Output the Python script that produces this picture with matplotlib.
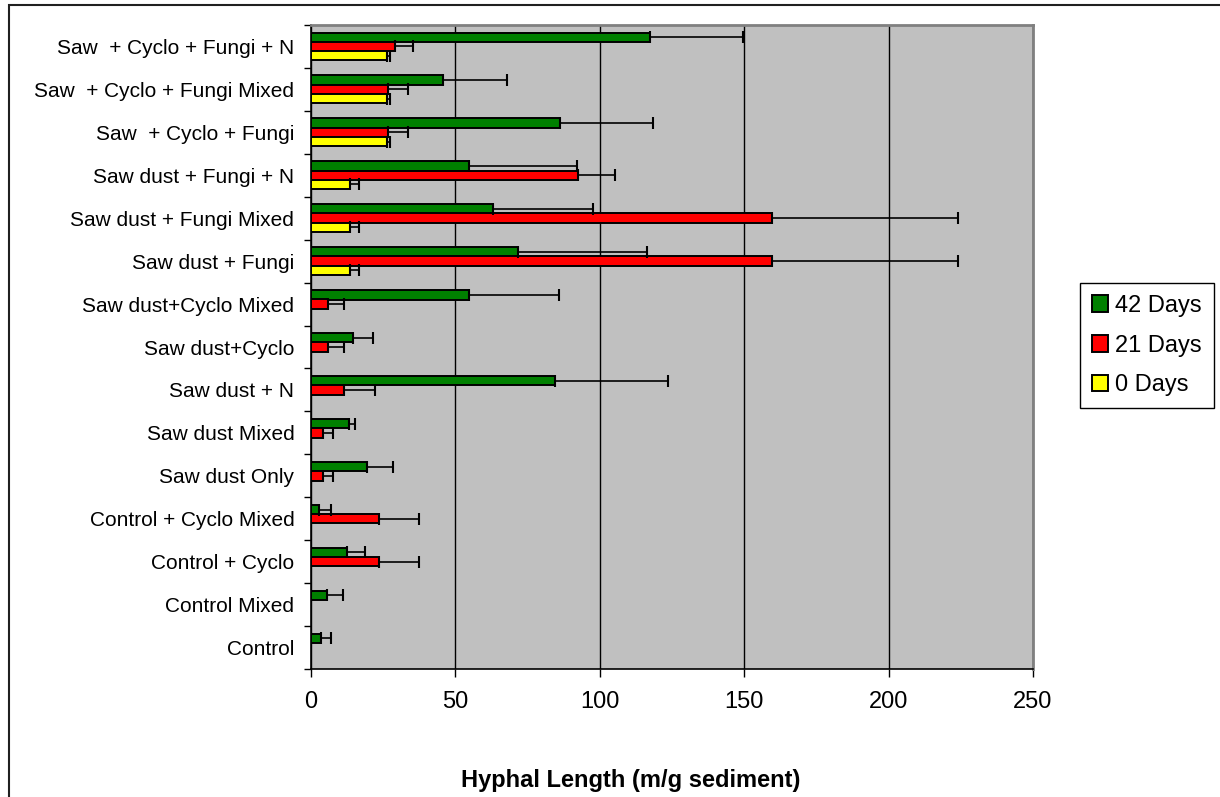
import matplotlib
matplotlib.use('Agg')
import matplotlib.pyplot as plt
import numpy as np
from matplotlib.patches import Rectangle

# Categories listed top to bottom as in the chart
categories = [
    "Saw  + Cyclo + Fungi + N",
    "Saw  + Cyclo + Fungi Mixed",
    "Saw  + Cyclo + Fungi",
    "Saw dust + Fungi + N",
    "Saw dust + Fungi Mixed",
    "Saw dust + Fungi",
    "Saw dust+Cyclo Mixed",
    "Saw dust+Cyclo",
    "Saw dust + N",
    "Saw dust Mixed",
    "Saw dust Only",
    "Control + Cyclo Mixed",
    "Control + Cyclo",
    "Control Mixed",
    "Control",
]

day42 = [117.4, 45.6, 86.3, 54.6, 62.9, 71.8, 54.7, 14.4, 84.4, 13.2, 19.3, 2.7, 12.5, 5.4, 3.4]
err42 = [32.3, 22.1, 32.0, 37.4, 34.6, 44.4, 31.1, 7.0, 39.3, 1.9, 9.0, 4.2, 6.1, 5.6, 3.5]
day21 = [29.1, 26.8, 26.8, 92.6, 159.7, 159.7, 6.0, 6.0, 11.5, 4.0, 4.0, 23.5, 23.5, 0, 0]
err21 = [6.1, 6.9, 6.9, 12.5, 64.4, 64.4, 5.5, 5.5, 10.5, 3.5, 3.5, 13.9, 13.9, 0, 0]
day0 = [26.2, 26.2, 26.2, 13.5, 13.5, 13.5, 0, 0, 0, 0, 0, 0, 0, 0, 0]
err0 = [1.2, 1.2, 1.2, 3.0, 3.0, 3.0, 0, 0, 0, 0, 0, 0, 0, 0, 0]

series = [
    ("42 Days", day42, err42, "#008000", 0.215),
    ("21 Days", day21, err21, "#FF0000", 0.0),
    ("0 Days", day0, err0, "#FFFF00", -0.215),
]

plt.rcParams['font.family'] = ['Liberation Sans', 'DejaVu Sans']

W, H = 1220, 797
fig = plt.figure(figsize=(W / 100, H / 100), dpi=100)

# outer chart border (runs off the right and bottom edges)
fig.patches.append(Rectangle((9 / W, -0.1), 1.2, (H - 5) / H + 0.1,
                             transform=fig.transFigure, fill=False,
                             edgecolor='#202020', linewidth=1.5))

ax = fig.add_axes([311 / W, (H - 669) / H, 722 / W, (669 - 25) / H])
ax.set_facecolor('#C0C0C0')

n = len(categories)
ypos = np.arange(n)[::-1]  # first category at the top
bar_h = 0.22

handles = []
for label, vals, errs, color, off in series:
    vals = np.array(vals, dtype=float)
    errs = np.array(errs, dtype=float)
    b = ax.barh(ypos + off, vals, height=bar_h, color=color,
                edgecolor='black', linewidth=1.4, label=label, zorder=3)
    handles.append(b)
    m = errs > 0
    ax.errorbar(vals[m], (ypos + off)[m], xerr=[np.zeros(m.sum()), errs[m]],
                fmt='none', ecolor='black', elinewidth=1.2, capsize=4.5,
                capthick=1.5, zorder=4)

ax.set_xlim(0, 250)
ax.set_ylim(-0.5, n - 0.5)
ax.set_xticks([0, 50, 100, 150, 200, 250])
ax.xaxis.grid(True, color='black', linewidth=1.0, zorder=1)
ax.set_axisbelow(True)

ax.set_yticks(ypos)
ax.set_yticklabels(categories, fontsize=15)
ax.set_yticks(np.arange(-0.5, n, 1.0), minor=True)
ax.tick_params(axis='y', which='major', length=0, pad=12)
ax.tick_params(axis='y', which='minor', length=5, width=1, direction='out')
ax.tick_params(axis='x', length=6, width=1, direction='out', pad=10, labelsize=17)

for side in ('top', 'right'):
    ax.spines[side].set_color('#808080')
    ax.spines[side].set_linewidth(2)
for side in ('left', 'bottom'):
    ax.spines[side].set_color('black')
    ax.spines[side].set_linewidth(1.2)

fig.text(631 / W, 1 - 781 / H, "Hyphal Length (m/g sediment)",
         ha='center', va='center', fontsize=17, fontweight='bold')

leg = fig.legend(handles=handles, loc='upper left',
                 bbox_to_anchor=(1080 / W, 1 - 283 / H), fontsize=17,
                 frameon=True, fancybox=False, edgecolor='black',
                 framealpha=1, handlelength=0.7, handleheight=0.7,
                 handletextpad=0.3, labelspacing=0.75, borderpad=0.5,
                 borderaxespad=0)
leg.get_frame().set_linewidth(1.0)

fig.savefig('out.png', dpi=100)
